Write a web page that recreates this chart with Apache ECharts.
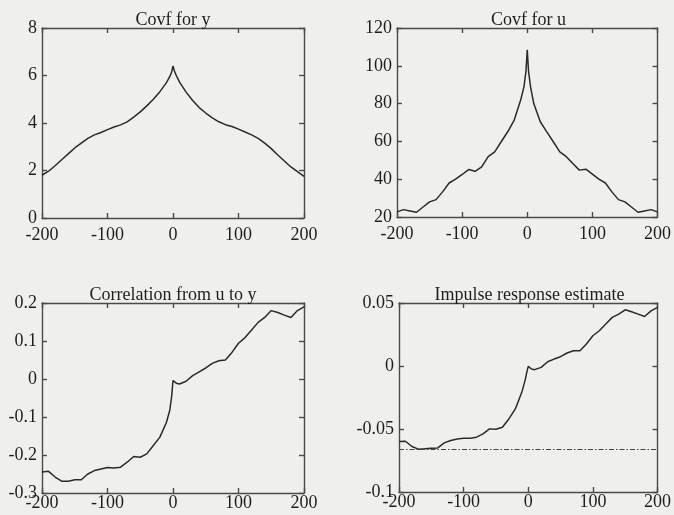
<!DOCTYPE html>
<html><head><meta charset="utf-8">
<script src="https://cdn.jsdelivr.net/npm/echarts@6/dist/echarts.min.js"></script>
<style>html,body{margin:0;padding:0;background:#efefec}#c{width:674px;height:515px}</style>
</head><body><div id="c"></div>
<script>
// ---- data ----
const titles = ['Covf for y', 'Covf for u', 'Correlation from u to y', 'Impulse response estimate'];
const lags = [-200,-190,-180,-170,-160,-150,-140,-130,-120,-110,-100,-90,-80,-70,-60,-50,-40,-30,-20,-10,-5,-2,0,2,5,10,20,30,40,50,60,70,80,90,100,110,120,130,140,150,160,170,180,190,200];
const covfY = [1.8,1.97,2.2,2.45,2.7,2.95,3.15,3.35,3.5,3.6,3.72,3.83,3.92,4.05,4.25,4.47,4.72,5.0,5.32,5.7,5.95,6.15,6.4,6.2,6.0,5.72,5.3,4.95,4.65,4.42,4.22,4.05,3.93,3.85,3.74,3.62,3.5,3.35,3.15,2.92,2.65,2.4,2.15,1.95,1.75];
const covfU = [22.7,23.9,23.2,22.5,25.3,28.0,29.2,33.3,38.0,40.0,42.5,45.1,44.2,46.5,51.9,54.5,59.8,65.1,71.3,82.0,89.0,97.0,108.5,97.0,89.0,80.0,70.4,65.0,59.8,54.5,51.9,48.3,44.8,45.3,42.7,40.0,38.0,33.3,29.2,28.0,25.3,22.5,23.2,23.9,22.7];
const corrUY = [-0.245,-0.243,-0.258,-0.269,-0.269,-0.265,-0.265,-0.250,-0.241,-0.237,-0.233,-0.234,-0.232,-0.219,-0.204,-0.206,-0.197,-0.175,-0.153,-0.114,-0.083,-0.045,-0.004,-0.008,-0.011,-0.013,-0.006,0.009,0.019,0.029,0.041,0.048,0.050,0.070,0.094,0.109,0.129,0.149,0.162,0.180,0.175,0.168,0.162,0.180,0.190];
const impulse = [-0.0599,-0.0597,-0.0639,-0.0660,-0.0657,-0.0652,-0.0650,-0.0610,-0.0591,-0.0580,-0.0573,-0.0573,-0.0565,-0.0539,-0.0499,-0.0502,-0.0486,-0.0420,-0.0341,-0.0209,-0.0116,-0.0045,-0.0003,-0.0015,-0.0024,-0.0029,-0.0011,0.0034,0.0055,0.0074,0.0103,0.0121,0.0121,0.0174,0.0240,0.0280,0.0333,0.0386,0.0412,0.0446,0.0430,0.0412,0.0393,0.0438,0.0465];
const thresholdLags = [-200, 200];
const thresholdLevel = -0.0663;
const xTicks = {min: -200, max: 200, interval: 100};
const yRanges = [
  {min: 0, max: 8, interval: 2},
  {min: 20, max: 120, interval: 20},
  {min: -0.3, max: 0.2, interval: 0.1},
  {min: -0.1, max: 0.05, interval: 0.05}
];
const seriesValues = [covfY, covfU, corrUY, impulse];

// ---- layout ----
const grids = [
  {left: 42, top: 28, width: 262, height: 190},
  {left: 397, top: 28, width: 263, height: 189},
  {left: 42, top: 303, width: 262, height: 190},
  {left: 399, top: 303, width: 261, height: 189}
];
const FONT = 'Liberation Serif';
const AX = '#4a4a4a';
const TXT = '#1e1e1e';
const xLabelMargin = [8, 8, 1, 1];

const fmt = v => { const r = Math.round(v * 1000) / 1000; return String(r); };

const option = {
  backgroundColor: '#efefec',
  animation: false,
  title: grids.map((g, i) => ({
    text: titles[i],
    left: g.left + g.width / 2,
    top: g.top - 17,
    textAlign: 'center',
    padding: 0,
    textStyle: {fontFamily: FONT, fontSize: 18, fontWeight: 'normal', color: TXT}
  })),
  grid: grids,
  xAxis: [],
  yAxis: [],
  series: []
};

grids.forEach((g, i) => {
  const common = {axisLine: {show: true, onZero: false, lineStyle: {color: AX, width: 1.4}},
    axisTick: {show: true, inside: true, length: 5, lineStyle: {color: AX, width: 1.4}},
    splitLine: {show: false}};
  option.xAxis.push(Object.assign({type: 'value', gridIndex: i, position: 'bottom',
    min: xTicks.min, max: xTicks.max, interval: xTicks.interval,
    axisLabel: {show: true, margin: xLabelMargin[i], fontFamily: FONT, fontSize: 18, color: TXT, formatter: fmt}}, common));
  option.xAxis.push(Object.assign({type: 'value', gridIndex: i, position: 'top',
    min: xTicks.min, max: xTicks.max, interval: xTicks.interval,
    axisLabel: {show: false}}, common));
  const yr = yRanges[i];
  option.yAxis.push(Object.assign({type: 'value', gridIndex: i, position: 'left',
    min: yr.min, max: yr.max, interval: yr.interval,
    axisLabel: {show: true, margin: 5, fontFamily: FONT, fontSize: 18, color: TXT, formatter: fmt}}, common));
  option.yAxis.push(Object.assign({type: 'value', gridIndex: i, position: 'right',
    min: yr.min, max: yr.max, interval: yr.interval,
    axisLabel: {show: false}}, common));
  option.series.push({
    type: 'line', xAxisIndex: 2 * i, yAxisIndex: 2 * i,
    data: lags.map((x, k) => [x, seriesValues[i][k]]),
    showSymbol: false, smooth: false,
    lineStyle: {color: '#2a2a2a', width: 1.5}
  });
});

option.series.push({
  type: 'line', xAxisIndex: 6, yAxisIndex: 6,
  data: thresholdLags.map(x => [x, thresholdLevel]),
  showSymbol: false,
  lineStyle: {color: '#444', width: 1.1, type: [5, 2, 1.5, 2]}
});

const chart = echarts.init(document.getElementById('c'), null, {renderer: 'canvas'});
chart.setOption(option);
</script>
</body></html>
